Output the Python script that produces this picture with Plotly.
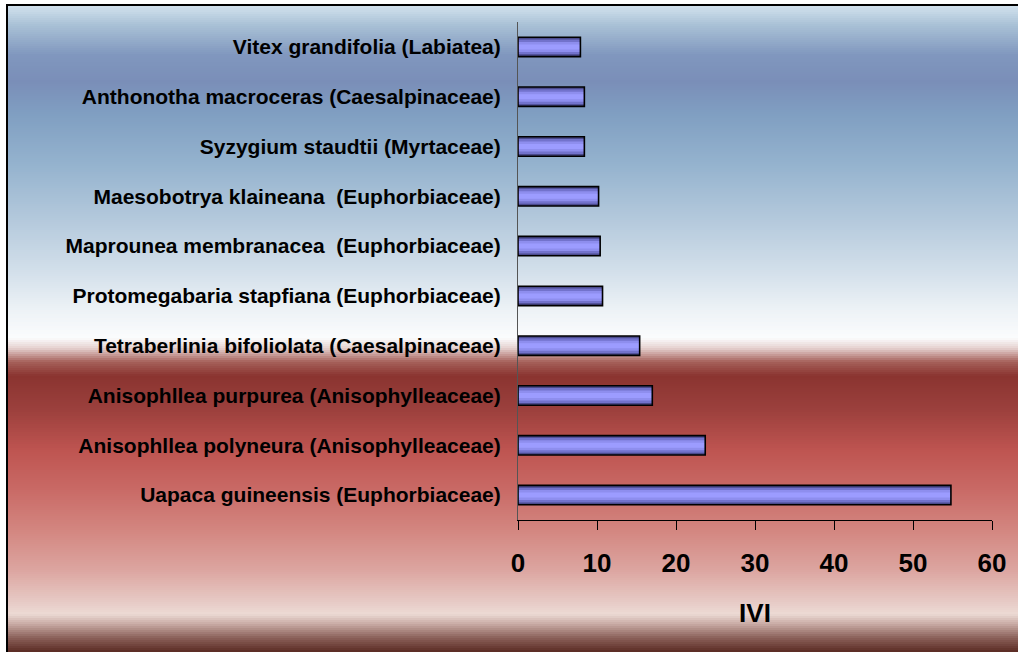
import plotly.graph_objects as go

# ---- data (bottom to top) ----
species = [
    "Uapaca guineensis (Euphorbiaceae)",
    "Anisophllea polyneura (Anisophylleaceae)",
    "Anisophllea purpurea (Anisophylleaceae)",
    "Tetraberlinia bifoliolata (Caesalpinaceae)",
    "Protomegabaria stapfiana (Euphorbiaceae)",
    "Maprounea membranacea \u00a0(Euphorbiaceae)",
    "Maesobotrya klaineana \u00a0(Euphorbiaceae)",
    "Syzygium staudtii (Myrtaceae)",
    "Anthonotha macroceras (Caesalpinaceae)",
    "Vitex grandifolia (Labiatea)",
]
ivi = [54.8, 23.7, 17.0, 15.4, 10.7, 10.4, 10.2, 8.4, 8.4, 7.9]
x_ticks = [0, 10, 20, 30, 40, 50, 60]

# ---- layout geometry ----
W, H = 1018, 652
L, R, T, B = 518, 26, 22, 132
PW, PH = W - L - R, H - T - B


def px(x):  # page pixel x -> paper
    return (x - L) / PW


def py(y):  # page pixel y -> paper
    return (H - B - y) / PH


# background gradient stops (page pixel y, colour)
stops = [
    (4, (0xd6, 0xe5, 0xf0)),
    (25, (0xa9, 0xc1, 0xd6)),
    (55, (0x80, 0x97, 0xbe)),
    (82, (0x7a, 0x8e, 0xb8)),
    (115, (0x80, 0x9f, 0xc2)),
    (165, (0x95, 0xb3, 0xce)),
    (220, (0xb4, 0xc9, 0xdc)),
    (270, (0xd2, 0xdf, 0xea)),
    (310, (0xed, 0xf2, 0xf6)),
    (338, (0xfb, 0xfc, 0xfd)),
    (348, (0xe6, 0xd2, 0xd0)),
    (362, (0xa5, 0x60, 0x5a)),
    (376, (0x8a, 0x34, 0x30)),
    (410, (0x9c, 0x40, 0x3d)),
    (450, (0xbe, 0x54, 0x50)),
    (490, (0xc9, 0x6a, 0x66)),
    (530, (0xd3, 0x86, 0x80)),
    (570, (0xdc, 0xa5, 0xa0)),
    (600, (0xe6, 0xc8, 0xc3)),
    (614, (0xec, 0xda, 0xd4)),
    (624, (0xc8, 0xaa, 0xa4)),
    (638, (0x8a, 0x60, 0x59)),
    (652, (0x5a, 0x2a, 0x22)),
]


def colour_at(y):
    for (y0, c0), (y1, c1) in zip(stops[:-1], stops[1:]):
        if y0 <= y <= y1:
            t = (y - y0) / (y1 - y0)
            c = [round(a + (b - a) * t) for a, b in zip(c0, c1)]
            return "rgb(%d,%d,%d)" % tuple(c)
    return "rgb(%d,%d,%d)" % stops[-1][1]


shapes = []
step = 2
for y in range(4, H + 2, step):
    shapes.append(dict(
        type="rect", xref="paper", yref="paper", layer="below",
        x0=px(6), x1=px(W + 10), y0=py(y), y1=py(y + step + 0.5),
        fillcolor=colour_at(y + step / 2), line=dict(width=0),
    ))
shapes.append(dict(
    type="rect", xref="paper", yref="paper", layer="above",
    x0=px(7), x1=px(W + 20), y0=py(5), y1=py(H + 20),
    fillcolor="rgba(0,0,0,0)", line=dict(color="black", width=2),
))

fig = go.Figure()
layers = [
    (0.39, "#4a4a8c"),
    (0.30, "#7272cc"),
    (0.20, "#8e8eee"),
    (0.10, "#9c9cff"),
]
for w, col in layers:
    fig.add_trace(go.Bar(
        x=ivi, y=species, orientation="h", width=w,
        marker=dict(color=col, line=dict(width=0)), opacity=1,
        hoverinfo="skip", showlegend=False,
    ))
fig.add_trace(go.Bar(
    x=ivi, y=species, orientation="h", width=0.39,
    marker=dict(color="rgba(0,0,0,0)", line=dict(color="black", width=1.6)),
    showlegend=False,
))

fig.update_layout(
    width=W, height=H,
    margin=dict(l=L, r=R, t=T, b=B),
    barmode="overlay",
    paper_bgcolor="white",
    plot_bgcolor="rgba(0,0,0,0)",
    shapes=shapes,
    font=dict(family="Arial, Liberation Sans, sans-serif", color="black"),
    xaxis=dict(
        range=[0, 60], tickvals=x_ticks, ticktext=[str(v) for v in x_ticks],
        showgrid=False, zeroline=False,
        showline=True, linecolor="black", linewidth=1,
        ticks="outside", ticklen=9, tickcolor="black", tickwidth=1,
        tickfont=dict(size=26, weight="bold"),
        ticklabelstandoff=11,
        title=dict(text="IVI", font=dict(size=26, weight="bold"), standoff=26),
    ),
    yaxis=dict(
        categoryorder="array", categoryarray=species,
        range=[-0.5, len(species) - 0.5],
        showgrid=False, zeroline=False,
        showline=True, linecolor="#555555", linewidth=1,
        ticks="", tickfont=dict(size=21, weight="bold"),
        ticklabelstandoff=12,
    ),
)

fig.write_html(
    "out.html",
    config={"displayModeBar": False},
    post_script="document.body.style.margin='0';document.body.style.overflow='hidden';",
)
